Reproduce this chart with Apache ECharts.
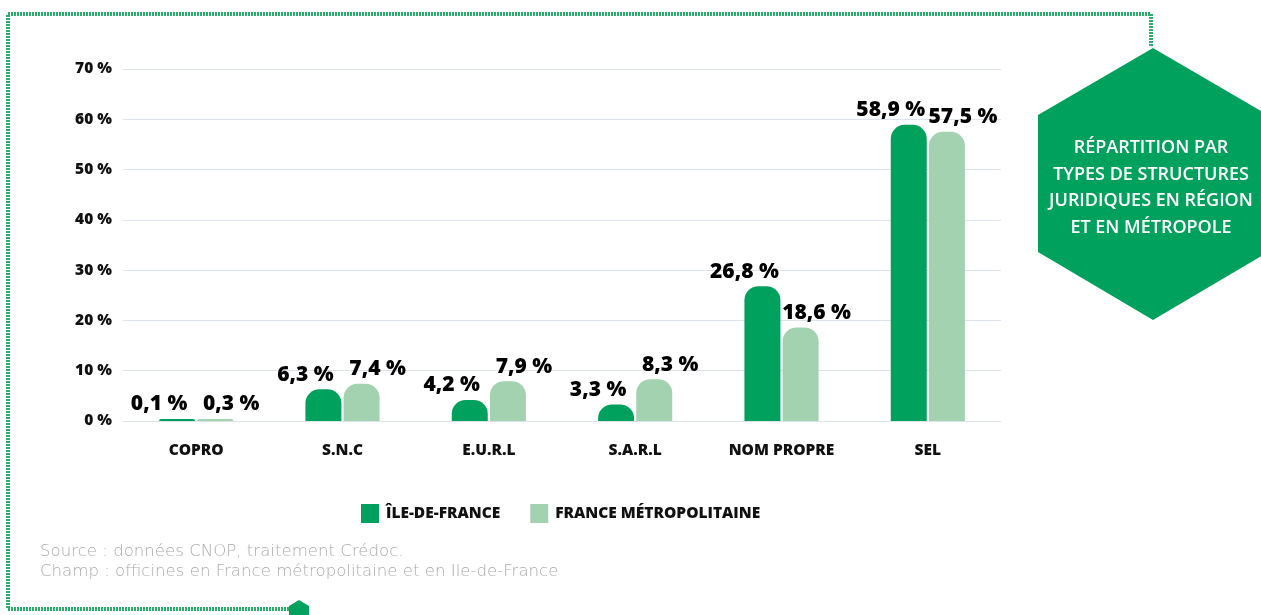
<!DOCTYPE html>
<html>
<head>
<meta charset="utf-8">
<script src="https://cdn.jsdelivr.net/npm/echarts@6/dist/echarts.min.js"></script>
<style>
  html, body { margin: 0; padding: 0; background: #fff; }
  #chart { width: 1261px; height: 615px; }
</style>
</head>
<body>
<div id="chart"></div>
<script>
// ---------- DATA ----------
const categories = ['COPRO', 'S.N.C', 'E.U.R.L', 'S.A.R.L', 'NOM PROPRE', 'SEL'];
const ileDeFrance = [0.1, 6.3, 4.2, 3.3, 26.8, 58.9];
const franceMetro = [0.3, 7.4, 7.9, 8.3, 18.6, 57.5];
const seriesNames = ['ÎLE-DE-FRANCE', 'FRANCE MÉTROPOLITAINE'];
const yTicks = [0, 10, 20, 30, 40, 50, 60, 70];

const darkGreen = '#00a15c';
const lightGreen = '#a3d2b0';
const fontMain = '"Open Sans", "Noto Sans", sans-serif';

let chart = echarts.init(document.getElementById('chart'));

function fmt(v) {
	return String(v).replace('.', ',') + ' %';
}

let labelStyle = {
	show: true,
	position: 'top',
	distance: 4,
	fontFamily: fontMain,
	fontWeight: 800,
	fontSize: 21,
	color: '#000',
	formatter: p => fmt(p.value)
};

let option = {
	backgroundColor: '#fff',
	animation: false,
	grid: {
		left: 123,
		right: 260,
		top: 69,
		bottom: 194
	},
	xAxis: {
		type: 'category',
		data: categories,
		axisLine: { show: false },
		axisTick: { show: false },
		axisLabel: {
			margin: 22,
			fontFamily: fontMain,
			fontWeight: 800,
			fontSize: 15.5,
			color: '#111'
		}
	},
	yAxis: {
		type: 'value',
		min: yTicks[0],
		max: yTicks[yTicks.length - 1],
		interval: 10,
		axisLine: { show: false },
		axisTick: { show: false },
		axisLabel: {
			margin: 11,
			fontFamily: fontMain,
			fontWeight: 800,
			fontSize: 15.5,
			color: '#111',
			formatter: v => v + ' %'
		},
		splitLine: {
			lineStyle: { color: '#dde3ea', width: 1 }
		}
	},
	legend: {
		left: 356,
		top: 499,
		itemWidth: 18,
		itemHeight: 19,
		itemGap: 30,
		icon: 'rect',
		textStyle: {
			fontFamily: fontMain,
			fontWeight: 800,
			fontSize: 15.5,
			color: '#111',
			padding: [0, 0, 0, 2]
		},
		data: seriesNames
	},
	series: [
		{
			name: seriesNames[0],
			type: 'bar',
			data: ileDeFrance,
			barWidth: 36,
			barGap: '6%',
			barMinHeight: 2,
			itemStyle: { color: darkGreen, borderRadius: [14, 14, 0, 0] },
			label: Object.assign({}, labelStyle, { offset: [-18, 0] })
		},
		{
			name: seriesNames[1],
			type: 'bar',
			data: franceMetro,
			barWidth: 36,
			barMinHeight: 2,
			itemStyle: { color: lightGreen, borderRadius: [14, 14, 0, 0] },
			label: Object.assign({}, labelStyle, { offset: [16, 0] })
		}
	],
	graphic: [
		// hatched frame
		{
			type: 'polyline',
			silent: true,
			shape: { points: [[1151, 46], [1151, 14], [8, 14], [8, 609], [292, 609]] },
			style: { stroke: '#2cae6a', lineWidth: 4, fill: null, lineDash: [2, 1] }
		},
		// small hexagon at the bottom
		{
			type: 'polygon',
			silent: true,
			shape: { points: [[299, 600], [309, 606], [309, 620], [299, 626], [289, 620], [289, 606]] },
			style: { fill: darkGreen }
		},
		// big hexagon with the title
		{
			type: 'polygon',
			silent: true,
			shape: { points: [[1153, 48], [1268, 115], [1268, 252], [1153, 320], [1038, 252], [1038, 115]] },
			style: { fill: darkGreen }
		},
		{
			type: 'text',
			silent: true,
			x: 1151,
			y: 188,
			style: {
				text: 'RÉPARTITION PAR\nTYPES DE STRUCTURES\nJURIDIQUES EN RÉGION\nET EN MÉTROPOLE',
				fill: '#fff',
				font: '600 18px "Open Sans", sans-serif',
				lineHeight: 26.5,
				align: 'center',
				verticalAlign: 'middle'
			}
		},
		{
			type: 'text',
			silent: true,
			x: 40,
			y: 542,
			style: {
				text: 'Source : données CNOP, traitement Crédoc.\nChamp : officines en France métropolitaine et en Ile-de-France',
				fill: '#ababab',
				font: '300 16.6px "DejaVu Sans", sans-serif',
				lineHeight: 20
			}
		}
	]
};

chart.setOption(option);
</script>
</body>
</html>
